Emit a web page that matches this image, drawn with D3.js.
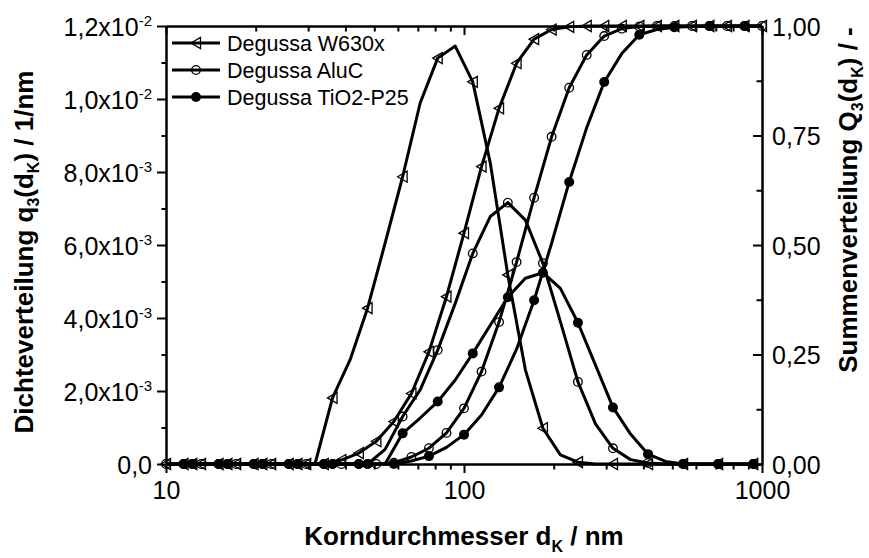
<!DOCTYPE html>
<html>
<head>
<meta charset="utf-8">
<script src="https://cdn.jsdelivr.net/npm/d3@7"></script>
<style>
body { margin: 0; background: #fff; }
text { font-family: "Liberation Sans", Arial, sans-serif; fill: #000; }
</style>
</head>
<body>
<div id="chart"></div>
<script>
// Klassengrenzen (Summenverteilung) und Klassenmitten (Dichteverteilung) in nm
var bounds = [10.00, 11.45, 13.11, 15.01, 17.19, 19.68, 22.54, 25.81, 29.55, 33.84,
              38.75, 44.37, 50.80, 58.17, 66.61, 76.27, 87.33, 100.0, 114.5, 131.1,
              150.1, 171.9, 196.8, 225.4, 258.1, 295.5, 338.4, 387.5, 443.7, 508.0,
              581.7, 666.1, 762.7, 873.3, 1000];
var centers = [10.70, 12.25, 14.03, 16.07, 18.40, 21.06, 24.12, 27.62, 31.62, 36.21,
               41.46, 47.47, 54.35, 62.24, 71.27, 81.61, 93.45, 107.0, 122.5, 140.3,
               160.7, 184.0, 210.6, 241.2, 276.2, 316.2, 362.1, 414.6, 474.7, 543.5,
               622.4, 712.7, 816.1, 934.5];

// q3 in 1/nm
var q3W630x = [0, 0, 0, 0, 0, 0, 0, 0, 0, 0.00181,
               0.00285, 0.00427, 0.00605, 0.00787, 0.00989, 0.01112, 0.01145, 0.01047, 0.00825, 0.00518,
               0.00258, 0.00098, 0.00025, 0.00005, 0, 0, 0, 0, 0, 0,
               0, 0, 0, 0];
var q3AluC = [0, 0, 0, 0, 0, 0, 0, 0, 0, 0,
              0, 0, 0.0004, 0.0013, 0.00203, 0.00312, 0.0044, 0.00577, 0.00678, 0.00716,
              0.00668, 0.0055, 0.0039, 0.00225, 0.0011, 0.00043, 0.00012, 0.00003, 0, 0,
              0, 0, 0, 0];
var q3TiO2 = [0, 0, 0, 0, 0, 0, 0, 0, 0, 0,
              0, 0, 0, 0.00084, 0.00126, 0.00171, 0.0023, 0.00303, 0.0038, 0.00457,
              0.00509, 0.00524, 0.00481, 0.00387, 0.00271, 0.00155, 0.00082, 0.00027, 0.00007, 0,
              0, 0, 0, 0];

// Q3 (0..1)
var Q3W630x = [0, 0, 0, 0, 0, 0, 0, 0, 0, 0,
               0.009, 0.025, 0.052, 0.097, 0.161, 0.256, 0.382, 0.527, 0.679, 0.812,
               0.915, 0.970, 0.992, 0.998, 1, 1, 1, 1, 1, 1,
               1, 1, 1, 1, 1];
var Q3AluC = [0, 0, 0, 0, 0, 0, 0, 0, 0, 0,
              0, 0, 0, 0.003, 0.016, 0.036, 0.071, 0.127, 0.211, 0.324,
              0.461, 0.608, 0.747, 0.859, 0.934, 0.977, 0.994, 0.999, 1, 1,
              1, 1, 1, 1, 1];
var Q3TiO2 = [0, 0, 0, 0, 0, 0, 0, 0, 0, 0,
              0, 0, 0, 0, 0.007, 0.018, 0.038, 0.067, 0.112, 0.175,
              0.262, 0.374, 0.504, 0.644, 0.768, 0.872, 0.937, 0.980, 0.992, 0.997,
              0.999, 1, 1, 1, 1];

var seriesNames = ["Degussa W630x", "Degussa AluC", "Degussa TiO2-P25"];

var xTickValues = [10, 100, 1000];
var xTickLabels = ["10", "100", "1000"];
var leftTickValues = [0, 0.002, 0.004, 0.006, 0.008, 0.010, 0.012];
var leftTickMant = ["0,0", "2,0x10", "4,0x10", "6,0x10", "8,0x10", "1,0x10", "1,2x10"];
var leftTickExp = ["", "-3", "-3", "-3", "-3", "-2", "-2"];
var rightTickValues = [0, 0.25, 0.5, 0.75, 1];
var rightTickLabels = ["0,00", "0,25", "0,50", "0,75", "1,00"];

var W = 869, H = 558;
var pLeft = 166, pRight = 762, pTop = 26, pBottom = 464;

var svg = d3.select("#chart").append("svg")
            .attr("width", W)
            .attr("height", H);

var x = d3.scaleLog().domain([10, 1000]).range([pLeft, pRight]);
var yL = d3.scaleLinear().domain([0, 0.012]).range([pBottom, pTop]);
var yR = d3.scaleLinear().domain([0, 1]).range([pBottom, pTop]);

var minorX = [];
[10, 100].forEach(function (dec) {
	for (var i = 2; i <= 9; i++) minorX.push(dec * i);
});
var minorL = [0.001, 0.003, 0.005, 0.007, 0.009, 0.011];
var minorR = [0.125, 0.375, 0.625, 0.875];

function styleAxis(g) {
	g.selectAll("path").attr("stroke", "#000").attr("stroke-width", 2);
	g.selectAll("line").attr("stroke", "#000").attr("stroke-width", 2);
	g.selectAll("text").remove();
}

// bottom
svg.append("g").attr("transform", "translate(0," + pBottom + ")")
   .call(d3.axisBottom(x).tickValues(minorX).tickSize(5.5).tickSizeOuter(0).tickFormat(""))
   .call(styleAxis);
var gB = svg.append("g").attr("transform", "translate(0," + pBottom + ")")
   .call(d3.axisBottom(x).tickValues(xTickValues).tickSize(9).tickSizeOuter(0).tickFormat(""))
   .call(styleAxis);
gB.selectAll(".tick").append("text")
   .attr("y", 35)
   .attr("text-anchor", "middle")
   .style("font-size", "25px")
   .text(function (d, i) { return xTickLabels[i]; });

// top (ticks inside)
svg.append("g").attr("transform", "translate(0," + pTop + ")")
   .call(d3.axisTop(x).tickValues(minorX).tickSize(-5.5).tickSizeOuter(0).tickFormat(""))
   .call(styleAxis);
svg.append("g").attr("transform", "translate(0," + pTop + ")")
   .call(d3.axisTop(x).tickValues(xTickValues).tickSize(-9).tickSizeOuter(0).tickFormat(""))
   .call(styleAxis);

// left
svg.append("g").attr("transform", "translate(" + pLeft + ",0)")
   .call(d3.axisLeft(yL).tickValues(minorL).tickSize(4.5).tickSizeOuter(0).tickFormat(""))
   .call(styleAxis);
var gL = svg.append("g").attr("transform", "translate(" + pLeft + ",0)")
   .call(d3.axisLeft(yL).tickValues(leftTickValues).tickSize(9).tickSizeOuter(0).tickFormat(""))
   .call(styleAxis);
var lt = gL.selectAll(".tick").append("text")
   .attr("x", -14)
   .attr("y", 9)
   .attr("text-anchor", "end")
   .style("font-size", "25px");
lt.append("tspan").text(function (d, i) { return leftTickMant[i]; });
lt.append("tspan")
  .attr("dy", -10)
  .style("font-size", "15px")
  .text(function (d, i) { return leftTickExp[i]; });

// right (ticks inside)
svg.append("g").attr("transform", "translate(" + pRight + ",0)")
   .call(d3.axisRight(yR).tickValues(minorR).tickSize(-5.5).tickSizeOuter(0).tickFormat(""))
   .call(styleAxis);
var gR = svg.append("g").attr("transform", "translate(" + pRight + ",0)")
   .call(d3.axisRight(yR).tickValues(rightTickValues).tickSize(-9).tickSizeOuter(0).tickFormat(""))
   .call(styleAxis);
gR.selectAll(".tick").append("text")
   .attr("x", 10)
   .attr("y", 9)
   .attr("text-anchor", "start")
   .style("font-size", "25px")
   .text(function (d, i) { return rightTickLabels[i]; });

// titles
svg.append("text")
   .attr("transform", "translate(33,252) rotate(-90)")
   .attr("text-anchor", "middle")
   .style("font-size", "26px")
   .style("font-weight", "bold")
   .call(function (t) {
	t.append("tspan").text("Dichteverteilung q");
	t.append("tspan").attr("dy", 6).style("font-size", "16px").text("3");
	t.append("tspan").attr("dy", -6).text("(d");
	t.append("tspan").attr("dy", 6).style("font-size", "16px").text("K");
	t.append("tspan").attr("dy", -6).text(") / 1/nm");
   });

svg.append("text")
   .attr("transform", "translate(857,200) rotate(-90)")
   .attr("text-anchor", "middle")
   .style("font-size", "26px")
   .style("font-weight", "bold")
   .call(function (t) {
	t.append("tspan").text("Summenverteilung Q");
	t.append("tspan").attr("dy", 6).style("font-size", "16px").text("3");
	t.append("tspan").attr("dy", -6).text("(d");
	t.append("tspan").attr("dy", 6).style("font-size", "16px").text("K");
	t.append("tspan").attr("dy", -6).text(") / -");
   });

svg.append("text")
   .attr("x", (pLeft + pRight) / 2)
   .attr("y", 545)
   .attr("text-anchor", "middle")
   .style("font-size", "26px")
   .style("font-weight", "bold")
   .call(function (t) {
	t.append("tspan").text("Korndurchmesser d");
	t.append("tspan").attr("dy", 7).style("font-size", "16px").text("K");
	t.append("tspan").attr("dy", -7).text(" / nm");
   });

// markers
function drawMarker(g, type, cx, cy) {
	if (type == "tri") {
		g.append("path")
		 .attr("d", "M" + (cx - 5) + "," + cy + " L" + (cx + 4.5) + "," + (cy - 5.5) + " L" + (cx + 4.5) + "," + (cy + 5.5) + " Z")
		 .attr("fill", "none")
		 .attr("stroke", "#000")
		 .attr("stroke-width", 1.3);
	} else if (type == "open") {
		g.append("circle")
		 .attr("cx", cx).attr("cy", cy).attr("r", 4.3)
		 .attr("fill", "none")
		 .attr("stroke", "#000")
		 .attr("stroke-width", 1.3);
	} else {
		g.append("circle")
		 .attr("cx", cx).attr("cy", cy).attr("r", 5)
		 .attr("fill", "#000");
	}
}

var series = [
	{name: seriesNames[0], marker: "tri", q: q3W630x, Q: Q3W630x, qStep: 2, qOff: 1, QStep: 1, QOff: 0},
	{name: seriesNames[1], marker: "open", q: q3AluC, Q: Q3AluC, qStep: 2, qOff: 1, QStep: 1, QOff: 0},
	{name: seriesNames[2], marker: "filled", q: q3TiO2, Q: Q3TiO2, qStep: 2, qOff: 1, QStep: 2, QOff: 1}
];

var lineL = d3.line().x(function (d) { return x(d[0]); }).y(function (d) { return yL(d[1]); });
var lineR = d3.line().x(function (d) { return x(d[0]); }).y(function (d) { return yR(d[1]); });

var plot = svg.append("g");

series.forEach(function (s) {
	var dens = centers.map(function (c, i) { return [c, s.q[i]]; });
	var cum = bounds.map(function (b, i) { return [b, s.Q[i]]; });
	plot.append("path")
	    .attr("d", lineL(dens))
	    .attr("fill", "none")
	    .attr("stroke", "#000")
	    .attr("stroke-width", 3)
	    .attr("stroke-linejoin", "round");
	plot.append("path")
	    .attr("d", lineR(cum))
	    .attr("fill", "none")
	    .attr("stroke", "#000")
	    .attr("stroke-width", 3)
	    .attr("stroke-linejoin", "round");
	dens.forEach(function (d, i) {
		if (i % s.qStep == s.qOff) drawMarker(plot, s.marker, x(d[0]), yL(d[1]));
	});
	cum.forEach(function (d, i) {
		if (i % s.QStep == s.QOff) drawMarker(plot, s.marker, x(d[0]), yR(d[1]));
	});
});

// legend
var legend = svg.append("g");
series.forEach(function (s, i) {
	var ly = 43 + i * 27;
	legend.append("line")
	      .attr("x1", 172).attr("x2", 220)
	      .attr("y1", ly).attr("y2", ly)
	      .attr("stroke", "#000")
	      .attr("stroke-width", 3);
	drawMarker(legend, s.marker, 196, ly);
	legend.append("text")
	      .attr("x", 227)
	      .attr("y", ly + 7.5)
	      .style("font-size", "21.5px")
	      .text(s.name);
});
</script>
</body>
</html>
